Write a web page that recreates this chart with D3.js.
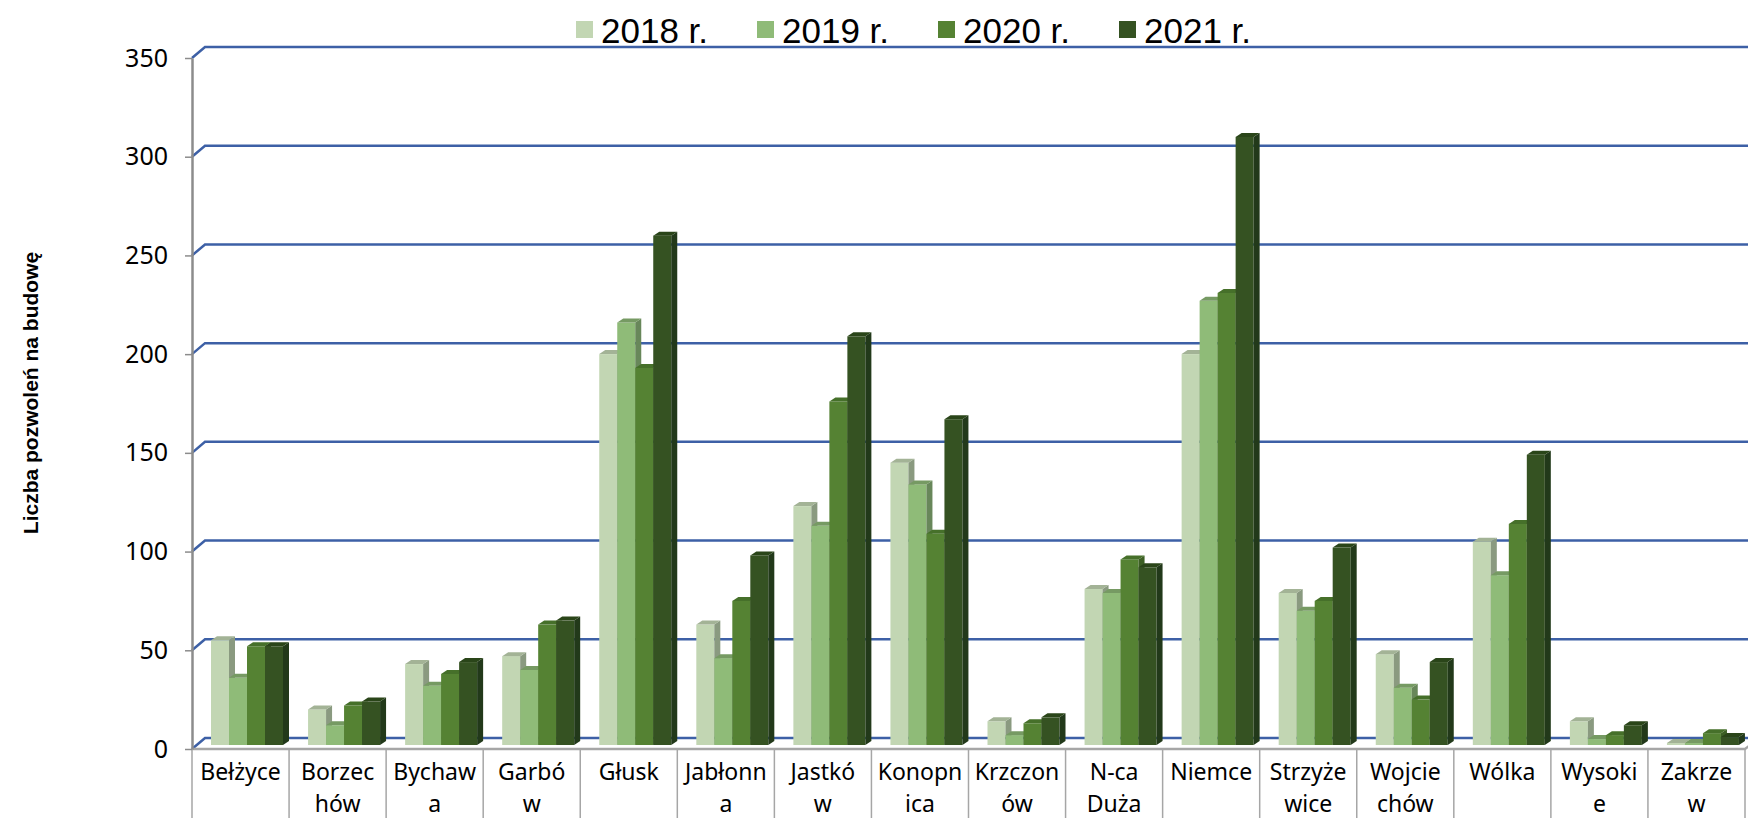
<!DOCTYPE html>
<html>
<head>
<meta charset="utf-8">
<script src="https://cdn.jsdelivr.net/npm/d3@7"></script>
<style>
  body { margin: 0; background: #fff; }
  svg { display: block; }
</style>
</head>
<body>
<svg id="chart"></svg>
<script>
const years = ['2018 r.', '2019 r.', '2020 r.', '2021 r.'];
const categories = ['Bełżyce', 'Borzechów', 'Bychawa', 'Garbów', 'Głusk', 'Jabłonna', 'Jastków', 'Konopnica',
  'Krzczonów', 'N-ca Duża', 'Niemce', 'Strzyżewice', 'Wojciechów', 'Wólka', 'Wysokie', 'Zakrzew'];
const categoryLabels = [['Bełżyce'], ['Borzec', 'hów'], ['Bychaw', 'a'], ['Garbó', 'w'], ['Głusk'], ['Jabłonn', 'a'],
  ['Jastkó', 'w'], ['Konopn', 'ica'], ['Krzczon', 'ów'], ['N-ca', 'Duża'], ['Niemce'], ['Strzyże', 'wice'],
  ['Wojcie', 'chów'], ['Wólka'], ['Wysoki', 'e'], ['Zakrze', 'w']];
const values2018 = [53, 18, 41, 45, 198, 61, 121, 143, 12, 79, 198, 77, 46, 103, 12, 1];
const values2019 = [34, 10, 30, 38, 214, 44, 111, 132, 5, 77, 225, 68, 29, 86, 3, 1];
const values2020 = [50, 20, 36, 61, 191, 73, 174, 107, 11, 94, 229, 73, 23, 112, 5, 6];
const values2021 = [50, 22, 42, 63, 258, 96, 207, 165, 14, 90, 308, 100, 42, 147, 10, 4];
const yTicks = [0, 50, 100, 150, 200, 250, 300, 350];
const yTitle = 'Liczba pozwoleń na budowę';

const series = [values2018, values2019, values2020, values2021];
const frontColors = ['#c2d6b3', '#8fbb78', '#558233', '#355222'];
const sideColors = ['#8a9a80', '#68875a', '#3c5f24', '#22391a'];
const topColors = ['#a3b396', '#769a63', '#46702a', '#2a4519'];

const chartWidth = 1748;
const chartHeight = 818;
const left = 192;
const right = 1745;
const floorY = 749;
const depth = { x: 13, y: -11 };
const barDepth = { x: 6, y: -4 };

const svg = d3.select('#chart').attr('width', chartWidth).attr('height', chartHeight);

const x = d3.scaleBand().domain(categories).range([left, right]);
const xSub = d3.scaleBand().domain(years).range([19, 91]);
const y = d3.scaleLinear().domain([0, 350]).range([floorY, 58]);
const yBar = d3.scaleLinear().domain([0, 350]).range([floorY - 4, 54]);

// back wall gridlines
svg
  .append('g')
  .selectAll('path')
  .data(yTicks)
  .join('path')
  .attr('d', (t) => `M${left},${y(t)}L${left + depth.x},${y(t) + depth.y}L${chartWidth},${y(t) + depth.y}`)
  .attr('fill', 'none')
  .attr('stroke', '#3d60a6')
  .attr('stroke-width', 2.5);

// floor front edge
svg
  .append('path')
  .attr('d', `M${left},${floorY}L${right},${floorY}L${right + 4},${floorY - 3}`)
  .attr('fill', 'none')
  .attr('stroke', '#a6a6a6')
  .attr('stroke-width', 2.5);

// category dividers
svg
  .append('g')
  .selectAll('line')
  .data(categories.concat(['end']))
  .join('line')
  .attr('x1', (d, i) => (i < categories.length ? x(d) : right))
  .attr('x2', (d, i) => (i < categories.length ? x(d) : right))
  .attr('y1', floorY)
  .attr('y2', chartHeight)
  .attr('stroke', '#a6a6a6')
  .attr('stroke-width', 1.5);

// bars
const bars = [];
categories.forEach((c, ci) => {
  years.forEach((yr, si) => {
    bars.push({ category: c, key: yr, index: si, value: series[si][ci] });
  });
});

const w = xSub.bandwidth();
const barG = svg
  .append('g')
  .selectAll('g')
  .data(bars)
  .join('g')
  .attr('transform', (d) => `translate(${x(d.category) + xSub(d.key)},0)`);

barG
  .append('rect')
  .attr('x', 0)
  .attr('y', (d) => yBar(d.value))
  .attr('width', w)
  .attr('height', (d) => yBar(0) - yBar(d.value))
  .attr('fill', (d) => frontColors[d.index]);

barG
  .append('path')
  .attr('d', (d) => {
    const t = yBar(d.value);
    const b = yBar(0);
    return `M${w},${t}L${w + barDepth.x},${t + barDepth.y}L${w + barDepth.x},${b + barDepth.y}L${w},${b}Z`;
  })
  .attr('fill', (d) => sideColors[d.index]);

barG
  .append('path')
  .attr('d', (d) => {
    const t = yBar(d.value);
    return `M0,${t}L${barDepth.x},${t + barDepth.y}L${w + barDepth.x},${t + barDepth.y}L${w},${t}Z`;
  })
  .attr('fill', (d) => topColors[d.index]);

// y axis
const yAxis = svg
  .append('g')
  .attr('transform', `translate(${left},0)`)
  .call(d3.axisLeft(y).tickValues(yTicks).tickSize(7).tickSizeOuter(0).tickPadding(17));
yAxis.select('.domain').attr('stroke', '#8c8c8c').attr('stroke-width', 2.5);
yAxis.selectAll('.tick line').attr('stroke', '#8c8c8c').attr('stroke-width', 1.5);
yAxis
  .selectAll('.tick text')
  .attr('font-family', 'Noto Sans')
  .attr('font-size', 25)
  .attr('fill', '#000');

// category labels
svg
  .append('g')
  .selectAll('text')
  .data(categories)
  .join('text')
  .attr('x', (d) => x(d) + x.bandwidth() / 2)
  .attr('y', 780)
  .attr('text-anchor', 'middle')
  .attr('font-family', 'Noto Sans')
  .attr('font-size', 23)
  .attr('fill', '#000')
  .selectAll('tspan')
  .data((d, i) => categoryLabels[i])
  .join('tspan')
  .attr('x', function () {
    return d3.select(this.parentNode).attr('x');
  })
  .attr('dy', (d, i) => (i === 0 ? 0 : 32))
  .text((d) => d);

// y title
svg
  .append('text')
  .attr('transform', 'translate(38,393) rotate(-90)')
  .attr('text-anchor', 'middle')
  .attr('font-family', 'Liberation Sans')
  .attr('font-weight', 'bold')
  .attr('font-size', 21)
  .text(yTitle);

// legend
const legend = svg
  .append('g')
  .selectAll('g')
  .data(years)
  .join('g')
  .attr('transform', (d, i) => `translate(${576 + i * 181},0)`);

legend
  .append('rect')
  .attr('x', 0)
  .attr('y', 21)
  .attr('width', 17)
  .attr('height', 17)
  .attr('fill', (d, i) => frontColors[i]);

legend
  .append('text')
  .attr('x', 25)
  .attr('y', 43)
  .attr('font-family', 'Liberation Sans')
  .attr('font-size', 35)
  .attr('fill', '#000')
  .text((d) => d);
</script>
</body>
</html>
